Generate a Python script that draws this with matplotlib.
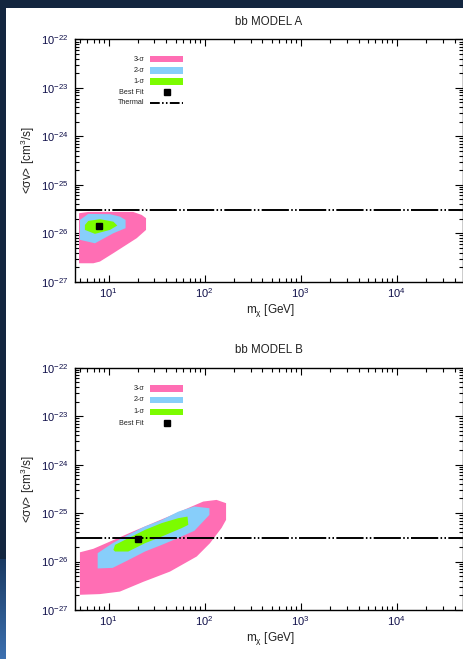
import matplotlib
matplotlib.use("Agg")
import matplotlib.pyplot as plt
import numpy as np
from matplotlib.patches import Rectangle
from matplotlib.lines import Line2D
from matplotlib.ticker import LogLocator, NullFormatter
from matplotlib.colors import LinearSegmentedColormap

plt.rcParams['font.family'] = ['Liberation Sans', 'DejaVu Sans']
plt.rcParams['mathtext.fontset'] = 'custom'
plt.rcParams['mathtext.rm'] = 'Liberation Sans'
plt.rcParams['mathtext.it'] = 'Liberation Sans'
plt.rcParams['mathtext.bf'] = 'Liberation Sans:bold'
plt.rcParams['axes.unicode_minus'] = False

# ---------------- data ----------------
titles = ["bb MODEL A", "bb MODEL B"]
thermal = 3.0e-26

A_3sig_m = [4.91, 6.13, 18.0, 22.1, 24.5, 24.5, 19.6, 11.2, 8.11, 6.92, 4.91]
A_3sig_sv = [2.58e-26, 2.75e-26, 2.75e-26, 2.38e-26, 2.04e-26, 1.17e-26, 7.9e-27,
             3.88e-27, 2.60e-27, 2.40e-27, 2.40e-27]
A_2sig_m = [5.02, 6.13, 10.3, 13.1, 15.0, 15.0, 11.2, 7.2, 5.02]
A_2sig_sv = [1.88e-26, 2.50e-26, 2.47e-26, 2.20e-26, 1.88e-26, 1.27e-26, 1.0e-26,
             6.2e-27, 7.3e-27]
A_1sig_m = [5.66, 6.13, 8.11, 11.2, 12.3, 10.3, 7.2, 5.66]
A_1sig_sv = [1.48e-26, 1.79e-26, 1.95e-26, 1.73e-26, 1.44e-26, 1.17e-26, 9.7e-27, 1.17e-26]
A_best = (8.0, 1.44e-26)

B_3sig_m = [5.02, 5.02, 6.92, 10.3, 19.6, 43.5, 96.6, 133, 167, 167, 150, 113.5,
            82.6, 43.5, 22.9, 13.1, 8.11]
B_3sig_sv = [2.06e-27, 1.55e-26, 1.83e-26, 2.58e-26, 4.5e-26, 8.75e-26, 1.73e-25,
             1.87e-25, 1.60e-25, 7.24e-26, 4.95e-26, 2.39e-26, 1.27e-26, 6.2e-27,
             3.81e-27, 2.40e-27, 2.13e-27]
B_2sig_m = [7.68, 7.68, 11.0, 16.0, 23.9, 35.6, 53.1, 78.0, 112, 112, 78.0, 53.1, 35.6,
            23.9, 16.0, 11.0]
B_2sig_sv = [7.2e-27, 1.49e-26, 2.39e-26, 3.56e-26, 5.3e-26, 7.2e-26, 1.07e-25, 1.37e-25,
             1.26e-25, 9.18e-26, 4.3e-26, 3.07e-26, 2.2e-26, 1.61e-26, 1.07e-26, 7.4e-27]
B_1sig_m = [11.2, 11.65, 16.0, 23.9, 35.6, 53.1, 66.2, 67.5, 57.5, 35.6, 23.9, 16.0, 11.65]
B_1sig_sv = [1.74e-26, 2.21e-26, 3.03e-26, 4.5e-26, 6.2e-26, 7.85e-26, 8.47e-26, 5.71e-26,
             4.89e-26, 3.27e-26, 2.39e-26, 1.61e-26, 1.61e-26]
B_best = (20.3, 2.9e-26)

legend_labels_A = ["3-σ", "2-σ", "1-σ", "Best Fit", "Thermal"]
legend_labels_B = ["3-σ", "2-σ", "1-σ", "Best Fit"]

PINK = '#ff6eb4'
BLUE = '#87cefa'
GREEN = '#7cfc00'
DARK = '#13263f'
THERMAL_LS = (0, (14, 1.2, 0.8, 1.2, 0.8, 1.2))

W, H = 464, 659
fig = plt.figure(figsize=(W / 100, H / 100), dpi=100)
fig.patch.set_facecolor(DARK)

# white slide panel
fig.patches.append(Rectangle((6 / W, 0), 1 - 6 / W, (H - 8) / H, transform=fig.transFigure,
                             facecolor='white', edgecolor='none', zorder=-10))

# lighter gradient on lower-left strip
gax = fig.add_axes([0, 0, 6 / W, 100 / H], zorder=-5)
grad = np.linspace(0, 1, 100)[:, None]
cm = LinearSegmentedColormap.from_list('g', ['#3c70b0', '#1a3a62'])
gax.imshow(grad, aspect='auto', cmap=cm, origin='lower', extent=[0, 1, 0, 1])
gax.set_axis_off()


def make_panel(rect, title, s3, s2, s1, best, labels):
    ax = fig.add_axes(rect)
    ax.set_facecolor('none')
    ax.set_xscale('log')
    ax.set_yscale('log')
    ax.set_xlim(4.46, 4.9e4)
    ax.set_ylim(1e-27, 1e-22)
    ax.fill(s3[0], s3[1], color=PINK, lw=0, zorder=2)
    ax.fill(s2[0], s2[1], color=BLUE, lw=0, zorder=3)
    ax.fill(s1[0], s1[1], color=GREEN, lw=0, zorder=4)
    ax.axhline(thermal, color='black', lw=1.4, ls=THERMAL_LS, zorder=5)
    ax.plot([best[0]], [best[1]], 's', color='black', ms=4.8, zorder=6)

    ax.xaxis.set_major_locator(LogLocator(base=10, numticks=10))
    ax.xaxis.set_minor_locator(LogLocator(base=10, subs=np.arange(2, 10), numticks=20))
    ax.xaxis.set_minor_formatter(NullFormatter())
    ax.yaxis.set_major_locator(LogLocator(base=10, numticks=10))
    ax.yaxis.set_minor_locator(LogLocator(base=10, subs=np.arange(2, 10), numticks=20))
    ax.yaxis.set_minor_formatter(NullFormatter())
    ax.tick_params(which='both', direction='in', top=True, right=True, labelsize=8,
                   colors='black', labelcolor='#10104a')
    ax.tick_params(axis='x', which='major', length=5, width=0.8, pad=3)
    ax.tick_params(axis='x', which='minor', length=3, width=0.8)
    ax.tick_params(axis='y', which='major', length=6, width=0.8, pad=5)
    ax.tick_params(axis='y', which='minor', length=3, width=0.8)
    for sp in ax.spines.values():
        sp.set_linewidth(1.0)

    ax.text(0.5, 1.073, title, transform=ax.transAxes, ha='center', va='center',
            fontsize=8.3, color='#222222')
    ax.set_xlabel('m$_{\\mathrm{χ}}$ [GeV]', fontsize=8.5, color='#222222')
    ax.xaxis.set_label_coords(0.503, -0.117)
    ax.xaxis.label.set_va('center')
    ax.set_ylabel('<σv> [cm$^{3}$/s]', fontsize=8.5, color='#222222')
    ax.yaxis.set_label_coords(-0.121, 0.5)
    ax.yaxis.label.set_va('center')

    # legend (manual)
    rows = [0.918, 0.872, 0.826, 0.781, 0.738] if len(labels) == 5 else [0.915, 0.867, 0.818, 0.771]
    colors = [PINK, BLUE, GREEN]
    for i, lab in enumerate(labels):
        y = rows[i]
        ax.text(0.178, y, lab, transform=ax.transAxes, ha='right', va='center',
                fontsize=5.2, color='#222222', zorder=7)
        if i < 3:
            ax.add_patch(Rectangle((0.193, y - 0.0135), 0.086, 0.027, transform=ax.transAxes,
                                   facecolor=colors[i], edgecolor='none', zorder=7))
        elif lab == "Best Fit":
            ax.plot([0.236], [y], 's', color='black', ms=4.6, transform=ax.transAxes, zorder=7)
        else:
            ax.add_line(Line2D([0.193, 0.279], [y, y], transform=ax.transAxes, color='black',
                               lw=1.4, ls=(0, (5, 1.2, 0.8, 1.2, 0.8, 1.2)), zorder=7))
    return ax


ax1 = make_panel([75 / W, (H - 281.7) / H, 388 / W, 242.4 / H], titles[0],
                 (A_3sig_m, A_3sig_sv), (A_2sig_m, A_2sig_sv), (A_1sig_m, A_1sig_sv),
                 A_best, legend_labels_A)
ax2 = make_panel([75 / W, (H - 610) / H, 388 / W, 242.3 / H], titles[1],
                 (B_3sig_m, B_3sig_sv), (B_2sig_m, B_2sig_sv), (B_1sig_m, B_1sig_sv),
                 B_best, legend_labels_B)

fig.savefig('out.png', dpi=100, facecolor=fig.get_facecolor())
